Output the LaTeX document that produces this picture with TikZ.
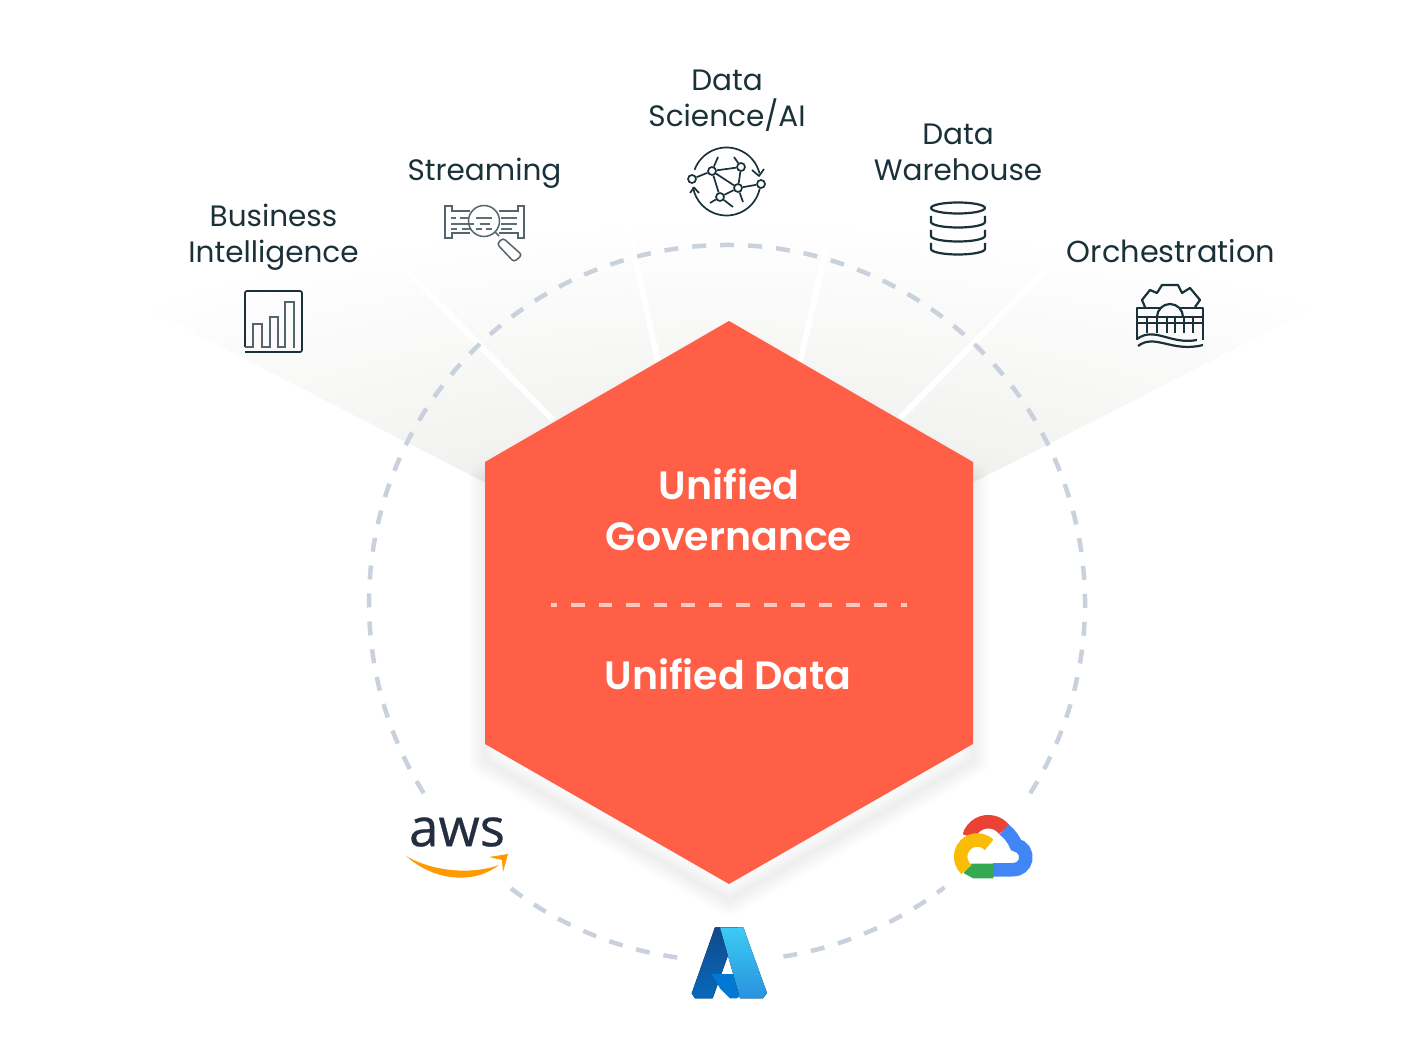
\documentclass[tikz,border=0pt]{standalone}
\usepackage{fontspec}
\setmainfont{Poppins}
\newfontfamily\awsfont[FakeBold=0.5]{Open Sans}
\newfontfamily\hexfont{Poppins SemiBold}
\usepackage{xcolor}
\usetikzlibrary{calc, positioning, arrows.meta}
\definecolor{inkNavy}{HTML}{1B3139}
\definecolor{hexRed}{HTML}{FF5F46}
\definecolor{ringGray}{HTML}{C9D2DC}
\definecolor{fanGray}{HTML}{E6E6E3}
\definecolor{awsNavy}{HTML}{232F3E}
\definecolor{awsOrange}{HTML}{FF9900}
\definecolor{azDarkA}{HTML}{114A8B}
\definecolor{azDarkB}{HTML}{0669BC}
\definecolor{azMid}{HTML}{0078D4}
\definecolor{azLightA}{HTML}{3CCBF4}
\definecolor{azLightB}{HTML}{2892DF}
\definecolor{gcRed}{HTML}{EA4335}
\definecolor{gcBlue}{HTML}{4285F4}
\definecolor{gcGreen}{HTML}{34A853}
\definecolor{gcYellow}{HTML}{FBBC05}
\tikzset{
    caption/.style={font=\fontsize{29.5}{36}\selectfont, text=inkNavy, align=center, inner sep=0pt},
    hextext/.style={font=\hexfont\fontsize{39.5}{51}\selectfont, text=white, align=center, inner sep=0pt},
    ringdash/.style={draw=ringGray, line width=4.5pt, dash pattern=on 14pt off 14pt, dash phase=26.3pt},
    icon/.style={draw=inkNavy, line width=1.7pt, line join=round},
    iconbold/.style={draw=inkNavy, line width=2.2pt, line join=round},
    iconthin/.style={draw=inkNavy!75, line width=1.5pt},
    ray/.style={draw=white, line width=6pt},
    netdot/.style={circle, draw=inkNavy, line width=1.7pt, fill=white, minimum size=8pt, inner sep=0pt},
    gband/.style={line width=13.5pt}
}
\begin{document}
\begin{tikzpicture}[x=1pt, y=-1pt]
    \useasboundingbox (0,0) rectangle (1424,1056);

    % Fan behind the hexagon
    \begin{scope}
        \clip (150,310) -- (350,150) -- (1100,150) -- (1310,310) -- (973,482) -- (485,482) -- cycle;
        \foreach \t in {100,98,...,0} {
            \pgfmathtruncatemacro\mix{100-\t}
            \fill[fanGray!\mix!white] (729,600) ellipse[x radius=\t*9.5pt, y radius=\t*3.8pt];
        }
    \end{scope}
    \draw[ray] (553,420) -- (401,265);
    \draw[ray] (658,362) -- (627,220);
    \draw[ray] (800,362) -- (833,220);
    \draw[ray] (900,418) -- (1048,268);

    % Ring
    \coordinate (Ring) at (727,603);
    \draw[ringdash] ([shift={(327.6:358pt)}]Ring) arc[start angle=327.6, end angle=572.4, radius=358pt];
    \draw[ringdash] ([shift={(232.6:358pt)}]Ring) arc[start angle=232.6, end angle=262.1, radius=358pt];
    \draw[ringdash] ([shift={(278.8:358pt)}]Ring) arc[start angle=278.8, end angle=307.4, radius=358pt];

    % Soft shadow
    \foreach \w in {4,8,...,32} {
        \draw[draw=black, draw opacity=0.006, line width=\w pt, line join=round]
            (729,337) -- (973,478) -- (973,760) -- (729,900) -- (485,760) -- (485,478) -- cycle;
    }

    % Hexagon
    \fill[hexRed] (729,321) -- (973,462) -- (973,744) -- (729,884) -- (485,744) -- (485,462) -- cycle;
    \node[hextext] (Governance) at (729,510) {Unified\\Governance};
    \node[hextext] (UnifiedData) at (728,674) {Unified Data};
    \draw[draw=white!65!hexRed, line width=4pt, dash pattern=on 13.5pt off 14pt, dash phase=7.5pt] (551,605) -- (907,605);

    % Captions
    \node[caption] (BI) at (273.5,237) {Business\\Intelligence};
    \node[caption] (Streaming) at (484.5,173) {Streaming};
    \node[caption] (DataSci) at (727,101) {Data\\Science/AI};
    \node[caption] (DWH) at (958,152) {Data\\Warehouse};
    \node[caption, font=\fontsize{30.4}{36}\selectfont] (Orch) at (1171,251.5) {Orchestration};

    % Bar chart icon
    \draw[icon, rounded corners=2pt] (245,347) -- (245,291) -- (302,291) -- (302,352) -- (245,352);
    \draw[iconthin] (245,347) -- (253,347) -- (253,324) -- (262,324) -- (262,347) -- (270,347) -- (270,317) -- (278,317) -- (278,347) -- (285,347) -- (285,302) -- (294,302) -- (294,348);

    % Streaming icon
    \draw[iconthin] (470,211) -- (452,211) -- (452,206) -- (445,206) -- (445,238) -- (452,238) -- (452,233) -- (470,233);
    \draw[iconthin] (499,211) -- (518,211) -- (518,206) -- (524,206) -- (524,238) -- (518,238) -- (518,233) -- (499,233);
    \foreach \ya/\xa/\xb in {218/451/456, 218/460/468, 218/476/492, 218/501/517,
                             224/451/474, 224/480/490, 224/501/517,
                             229/451/457, 229/462/471, 229/476/482, 229/486/492, 229/501/512} {
        \draw[inkNavy!70, line width=1.5pt] (\xa,\ya) -- (\xb,\ya);
    }
    \draw[iconthin] (484,221) circle[radius=15.5pt];
    \draw[iconthin] (495,232) -- (499,236);
    \draw[iconthin, rounded corners=3pt] (503,238) -- (497,244) -- (514,262) -- (522,255) -- cycle;

    % Network icon
    \draw[icon] ([shift={(160:34pt)}]726.5,181.5) arc[start angle=160, end angle=14, radius=34pt];
    \draw[icon] ([shift={(-12:34pt)}]726.5,181.5) arc[start angle=-12, end angle=-170, radius=34pt];
    \draw[icon] (752,170) -- (759,176) -- (764,169);
    \draw[icon] (690,193) -- (694,187.5) -- (699,193);
    \node[netdot] (n1) at (692,179) {};
    \node[netdot] (n2) at (712,171) {};
    \node[netdot] (n3) at (741,167) {};
    \node[netdot] (n4) at (761,184) {};
    \node[netdot] (n5) at (738,188) {};
    \node[netdot] (n6) at (720,197) {};
    \draw[icon] (n1) -- (n2) (n2) -- (n3) (n2) -- (n5) (n2) -- (n6) (n3) -- (n5) (n5) -- (n4) (n5) -- (n6);
    \draw[icon] (n2) -- (718,157) (n3) -- (734,157) (n5) -- (743,202) (n6) -- (710,203) (n6) -- (733,207);

    % Database icon
    \draw[iconbold] (958,208) circle[x radius=27pt, y radius=5.5pt];
    \foreach \yb in {216,230,243} {
        \draw[iconbold] (931,\yb) -- (931,\yb+6) arc[start angle=180, end angle=360, x radius=27pt, y radius=5.5pt] -- (985,\yb);
    }

    % Gear and bridge icon
    \draw[iconbold] (1145,307) -- (1142,300) -- (1150,290) -- (1157,293) -- (1162,285) -- (1178,285) -- (1182,293) -- (1190,288) -- (1200,300) -- (1195,307);
    \draw[iconbold] (1137,340) -- (1137,308) -- (1160.6,308) (1179.4,308) -- (1203,308) -- (1203,340);
    \draw[iconbold] (1137,317) -- (1203,317) (1137,323) -- (1203,323);
    \foreach \xc in {1147,1157,1167,1175,1184,1193} {
        \draw[iconbold] (\xc,317) -- (\xc,333);
    }
    \draw[iconbold] (1157,317) arc[start angle=180, end angle=0, radius=13pt];
    \draw[iconbold] (1137,339) .. controls (1155,326) and (1170,345) .. (1197,340);
    \draw[iconbold] (1138,346) .. controls (1155,333) and (1172,353) .. (1203,345);

    % AWS logo
    \node[font=\awsfont\fontsize{53}{53}\selectfont, text=awsNavy, inner sep=0pt] (AWS) at (457,832) {aws};
    \fill[awsOrange] (406,856) .. controls (435,882) and (475,884) .. (499,865) .. controls (475,874) and (435,873) .. (406,856) -- cycle;
    \fill[awsOrange] (489,857) -- (508,854) -- (503,872) -- (502,860) -- cycle;

    % Azure logo
    \fill[top color=azDarkA, bottom color=azDarkB] (715,927.3) -- (738,927.3) -- (712.7,998.3) -- (695,998.3) -- (691.7,993.3) -- cycle;
    \fill[azMid] (711.7,974) -- (733.3,974) -- (741.7,995) -- (736.7,998.3) -- (730,998.3) -- (720,988.3) -- cycle;
    \fill[top color=azLightA, bottom color=azLightB] (720,927.3) -- (743.3,927.3) -- (767,993) -- (763,998.3) -- (740,998.3) -- cycle;

    % Google Cloud logo
    \draw[gband, draw=gcRed] ([shift={(165:20pt)}]988.3,841.7) arc[start angle=165, end angle=38, radius=20pt];
    \draw[gband, draw=gcBlue] (1004,829.4) .. controls (1010,834) and (1014,840) .. (1016,845) arc[start angle=78, end angle=-90, radius=12.5pt] -- (993,870);
    \fill[gcGreen] (963.5,873) -- (971.5,863.5) -- (993.3,863.5) -- (993.3,878.3) -- (973,878.3) -- cycle;
    \draw[gband, draw=gcYellow] ([shift={(45:16.7pt)}]977.3,856.7) arc[start angle=45, end angle=230, radius=16.7pt];
\end{tikzpicture}
\end{document}
